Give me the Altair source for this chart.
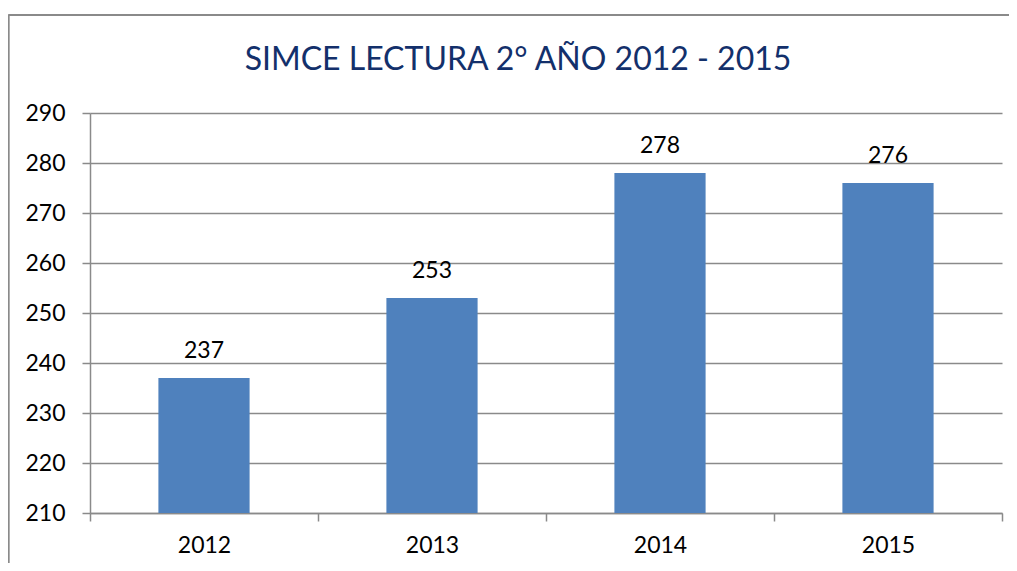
import altair as alt
import pandas as pd

years = ["2012", "2013", "2014", "2015"]
scores = [237, 253, 278, 276]
y_ticks = [210, 220, 230, 240, 250, 260, 270, 280, 290]
y_floor = 210
title_text = "SIMCE LECTURA 2° AÑO 2012 - 2015"

df = pd.DataFrame({"year": years, "score": scores})

FONT = "Lato"
GRAY = "#8a8a8a"

base = alt.Chart(df)

x_enc = alt.X(
    "year:N",
    sort=years,
    scale=alt.Scale(paddingInner=0, paddingOuter=0),
    axis=alt.Axis(
        title=None, labelAngle=0, tickBand="extent", tickSize=8,
        tickColor=GRAY, domainColor=GRAY, domainWidth=1.5, tickWidth=1.5,
        labelFontSize=23, labelFont=FONT, labelColor="#000000",
        labelPadding=13, grid=False,
    ),
)
y_enc = alt.Y(
    "score:Q",
    scale=alt.Scale(domain=[210, 290], nice=False, zero=False),
    axis=alt.Axis(
        title=None, values=y_ticks, tickSize=8, tickColor=GRAY, tickWidth=1.5,
        domainColor=GRAY, domainWidth=1.5, gridColor=GRAY, gridWidth=1.5,
        labelFontSize=23, labelFont=FONT, labelColor="#000000",
        labelPadding=17,
    ),
)

bars = base.mark_bar(color="#4F81BD", width=alt.RelativeBandSize(0.4)).encode(
    x=x_enc, y=y_enc, y2=alt.Y2(datum=y_floor)
)
labels = base.mark_text(
    baseline="alphabetic", dy=-20, fontSize=23, font=FONT, color="#000000"
).encode(x=alt.X("year:N", sort=years), y="score:Q", text="score:Q")

frame_left = base.mark_rule(color=GRAY, strokeWidth=1.5).encode(
    x=alt.value(-81.5), y=alt.value(-98), y2=alt.value(460)
)
frame_top = base.mark_rule(color=GRAY, strokeWidth=1.5).encode(
    x=alt.value(-81.5), x2=alt.value(930), y=alt.value(-98)
)

chart = (
    alt.layer(frame_left, frame_top, bars, labels)
    .properties(
        width=912,
        height=400,
        autosize=alt.AutoSizeParams(type="none"),
        padding={"left": 82, "top": 105, "right": 7, "bottom": 50},
        title=alt.TitleParams(
            text=title_text, fontSize=32, font=FONT, fontWeight="normal",
            color="#13306b", anchor="middle", dx=-28, offset=-88,
            baseline="alphabetic",
        ),
    )
    .configure_view(stroke=None)
)

chart.save("out.html", embed_options={"renderer": "svg", "actions": False})
